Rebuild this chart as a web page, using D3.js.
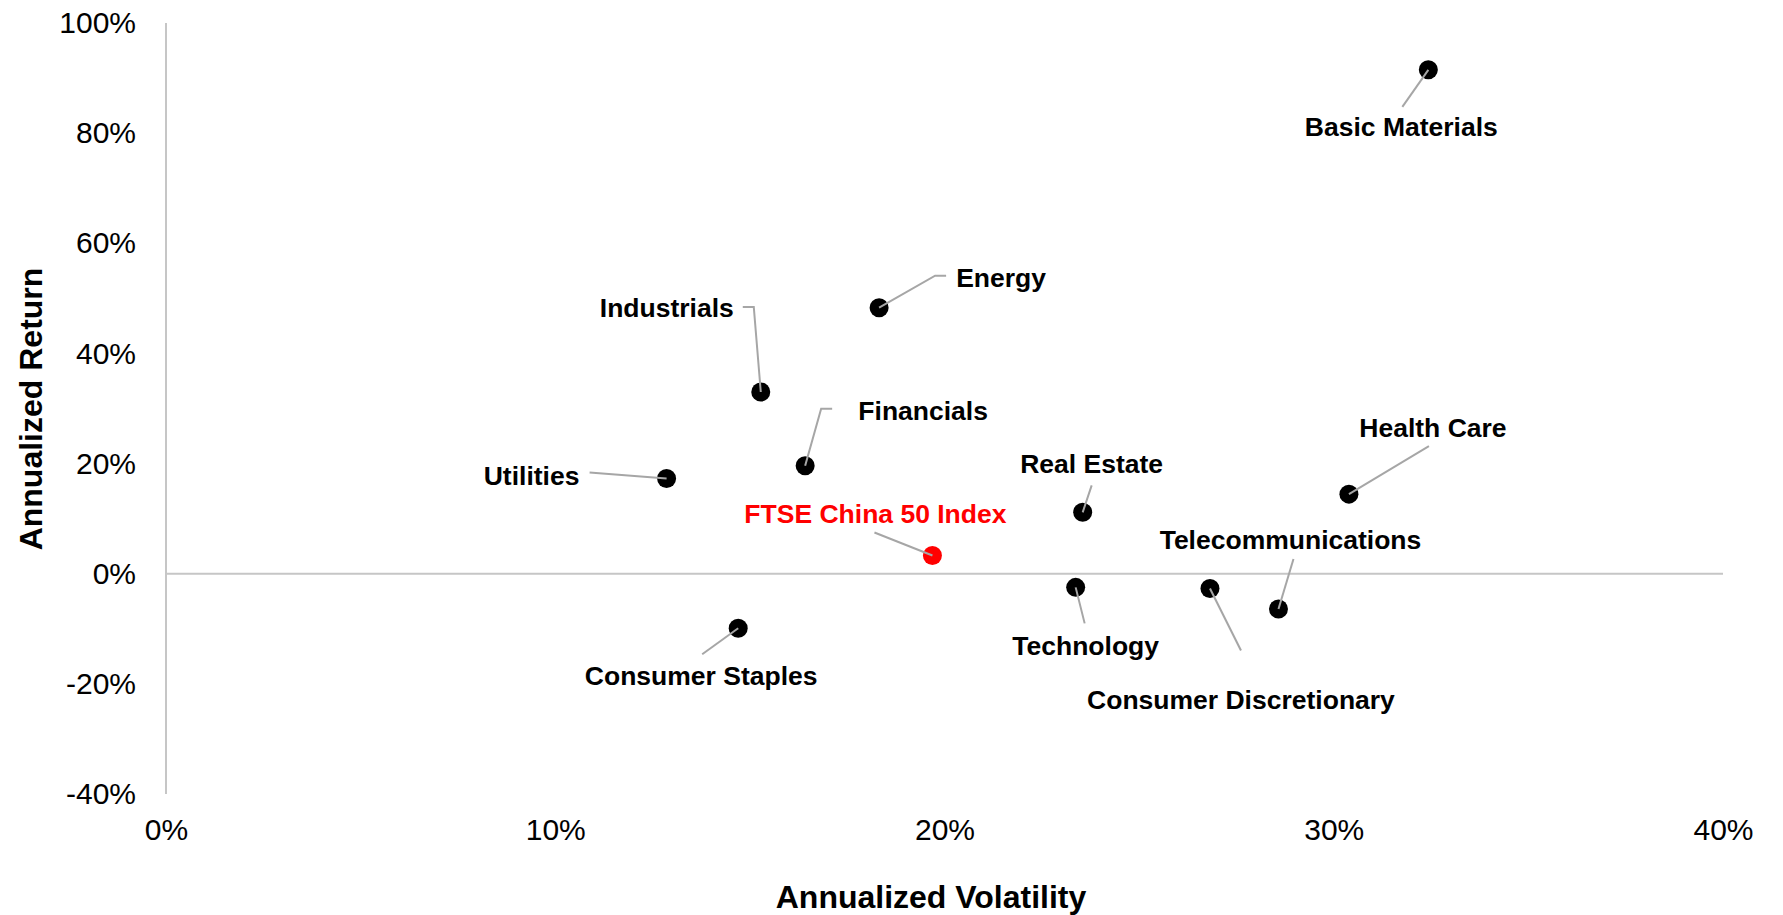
<!DOCTYPE html>
<html>
<head>
<meta charset="utf-8">
<script src="https://cdn.jsdelivr.net/npm/d3@7"></script>
<style>
body { margin: 0; background: #fff; }
svg { display: block; font-family: "Liberation Sans", Arial, sans-serif; }
</style>
</head>
<body>
<svg id="canvas" width="1783" height="915"></svg>
<script>
// sector risk / return
var sectors = ['Basic Materials', 'Energy', 'Industrials', 'Financials', 'Utilities',
               'FTSE China 50 Index', 'Real Estate', 'Health Care', 'Technology',
               'Consumer Discretionary', 'Telecommunications', 'Consumer Staples'];
var volatility = [0.3243, 0.1832, 0.1528, 0.1642, 0.1286, 0.1969, 0.2355, 0.3039, 0.2337, 0.2682, 0.2858, 0.1470];
var returns = [0.915, 0.483, 0.330, 0.196, 0.173, 0.033, 0.1115, 0.1445, -0.0248, -0.0268, -0.064, -0.099];
var highlight = 'FTSE China 50 Index';

var x_ticks = [0, 0.1, 0.2, 0.3, 0.4];
var y_ticks = [-0.4, -0.2, 0, 0.2, 0.4, 0.6, 0.8, 1.0];

// where each label sits, in pixels from its point, plus the leader line bends
var label_layout = {
    'Basic Materials':        {dx: -27, dy: 57,  leader: [[-26, 37]]},
    'Energy':                 {dx: 122, dy: -30, leader: [[67, -32], [56, -32]]},
    'Industrials':            {dx: -94, dy: -84, leader: [[-18, -85], [-7, -85]]},
    'Financials':             {dx: 118, dy: -55, leader: [[27, -57], [16, -57]]},
    'Utilities':              {dx: -135, dy: -3, leader: [[-77, -6]]},
    'FTSE China 50 Index':    {dx: -57, dy: -42, leader: [[-58, -23]]},
    'Real Estate':            {dx: 9,   dy: -49, leader: [[9, -27]]},
    'Health Care':            {dx: 84,  dy: -66, leader: [[80, -48]]},
    'Technology':             {dx: 10,  dy: 58,  leader: [[9, 36]]},
    'Consumer Discretionary': {dx: 31,  dy: 111, leader: [[31, 62]]},
    'Telecommunications':     {dx: 12,  dy: -69, leader: [[15, -50]]},
    'Consumer Staples':       {dx: -37, dy: 47,  leader: [[-36, 26]]}
};

draw_chart();

function draw_chart(){
    var padding = {top: 23, left: 166, right: 60, bottom: 121};
    var canvas = d3.select('#canvas');
    var canvas_width = +canvas.attr('width');
    var canvas_height = +canvas.attr('height');

    var x_scale = d3.scaleLinear()
        .domain([0, 0.4])
        .range([padding.left, canvas_width - padding.right]);
    var y_scale = d3.scaleLinear()
        .domain([-0.4, 1.0])
        .range([canvas_height - padding.bottom, padding.top]);

    draw_axes(canvas, x_scale, y_scale);
    draw_points(canvas, x_scale, y_scale);
}

function draw_axes(canvas, x_scale, y_scale){
    // plain hyphen for negatives, like the original
    var pct = function(t){ return Math.round(t * 100) + '%'; };

    var x_axis = canvas.append('g')
        .attr('transform', 'translate(0,' + y_scale.range()[0] + ')')
        .call(d3.axisBottom(x_scale).tickValues(x_ticks).tickFormat(pct).tickSize(0).tickPadding(25));
    var y_axis = canvas.append('g')
        .attr('transform', 'translate(' + x_scale.range()[0] + ',0)')
        .call(d3.axisLeft(y_scale).tickValues(y_ticks).tickFormat(pct).tickSize(0).tickPadding(30));

    [x_axis, y_axis].forEach(function(a){
        a.select('.domain').remove();
        a.selectAll('text')
            .attr('font-family', '"Liberation Sans", Arial, sans-serif')
            .attr('font-size', 30)
            .attr('fill', '#000');
    });

    // vertical axis line at 0% volatility, horizontal at 0% return
    canvas.append('line')
        .attr('x1', x_scale(0)).attr('x2', x_scale(0))
        .attr('y1', y_scale(1.0)).attr('y2', y_scale(-0.4))
        .attr('stroke', '#c6c6c6').attr('stroke-width', 2);
    canvas.append('line')
        .attr('x1', x_scale(0)).attr('x2', x_scale(0.4))
        .attr('y1', y_scale(0)).attr('y2', y_scale(0))
        .attr('stroke', '#c6c6c6').attr('stroke-width', 2);

    canvas.append('text')
        .attr('x', 931).attr('y', 908)
        .attr('text-anchor', 'middle')
        .attr('font-size', 32).attr('font-weight', 'bold')
        .text('Annualized Volatility');
    canvas.append('text')
        .attr('transform', 'translate(42,' + 409 + ') rotate(-90)')
        .attr('text-anchor', 'middle')
        .attr('font-size', 32).attr('font-weight', 'bold')
        .text('Annualized Return');
}

function draw_points(canvas, x_scale, y_scale){
    var points = sectors.map(function(s, i){
        return {name: s, vol: volatility[i], ret: returns[i], layout: label_layout[s]};
    });

    var plot_area = canvas.append('g');
    var line = d3.line();

    plot_area.selectAll('.dot')
        .data(points)
        .enter()
        .append('circle')
        .attr('class', 'dot')
        .attr('cx', function(d){ return x_scale(d.vol); })
        .attr('cy', function(d){ return y_scale(d.ret); })
        .attr('r', 9.5)
        .attr('fill', function(d){ return d.name == highlight ? '#ff0000' : '#000'; });

    plot_area.selectAll('.leader')
        .data(points)
        .enter()
        .append('path')
        .attr('class', 'leader')
        .attr('fill', 'none')
        .attr('stroke', '#a6a6a6')
        .attr('stroke-width', 2)
        .attr('d', function(d){
            var px = x_scale(d.vol), py = y_scale(d.ret);
            var pts = d.layout.leader.map(function(p){ return [px + p[0], py + p[1]]; });
            pts.push([px, py]);
            return line(pts);
        });

    plot_area.selectAll('.label')
        .data(points)
        .enter()
        .append('text')
        .attr('class', 'label')
        .attr('x', function(d){ return x_scale(d.vol) + d.layout.dx; })
        .attr('y', function(d){ return y_scale(d.ret) + d.layout.dy; })
        .attr('dy', '0.35em')
        .attr('text-anchor', 'middle')
        .attr('font-size', 26.5)
        .attr('font-weight', 'bold')
        .attr('fill', function(d){ return d.name == highlight ? '#ff0000' : '#000'; })
        .text(function(d){ return d.name; });
}
</script>
</body>
</html>
